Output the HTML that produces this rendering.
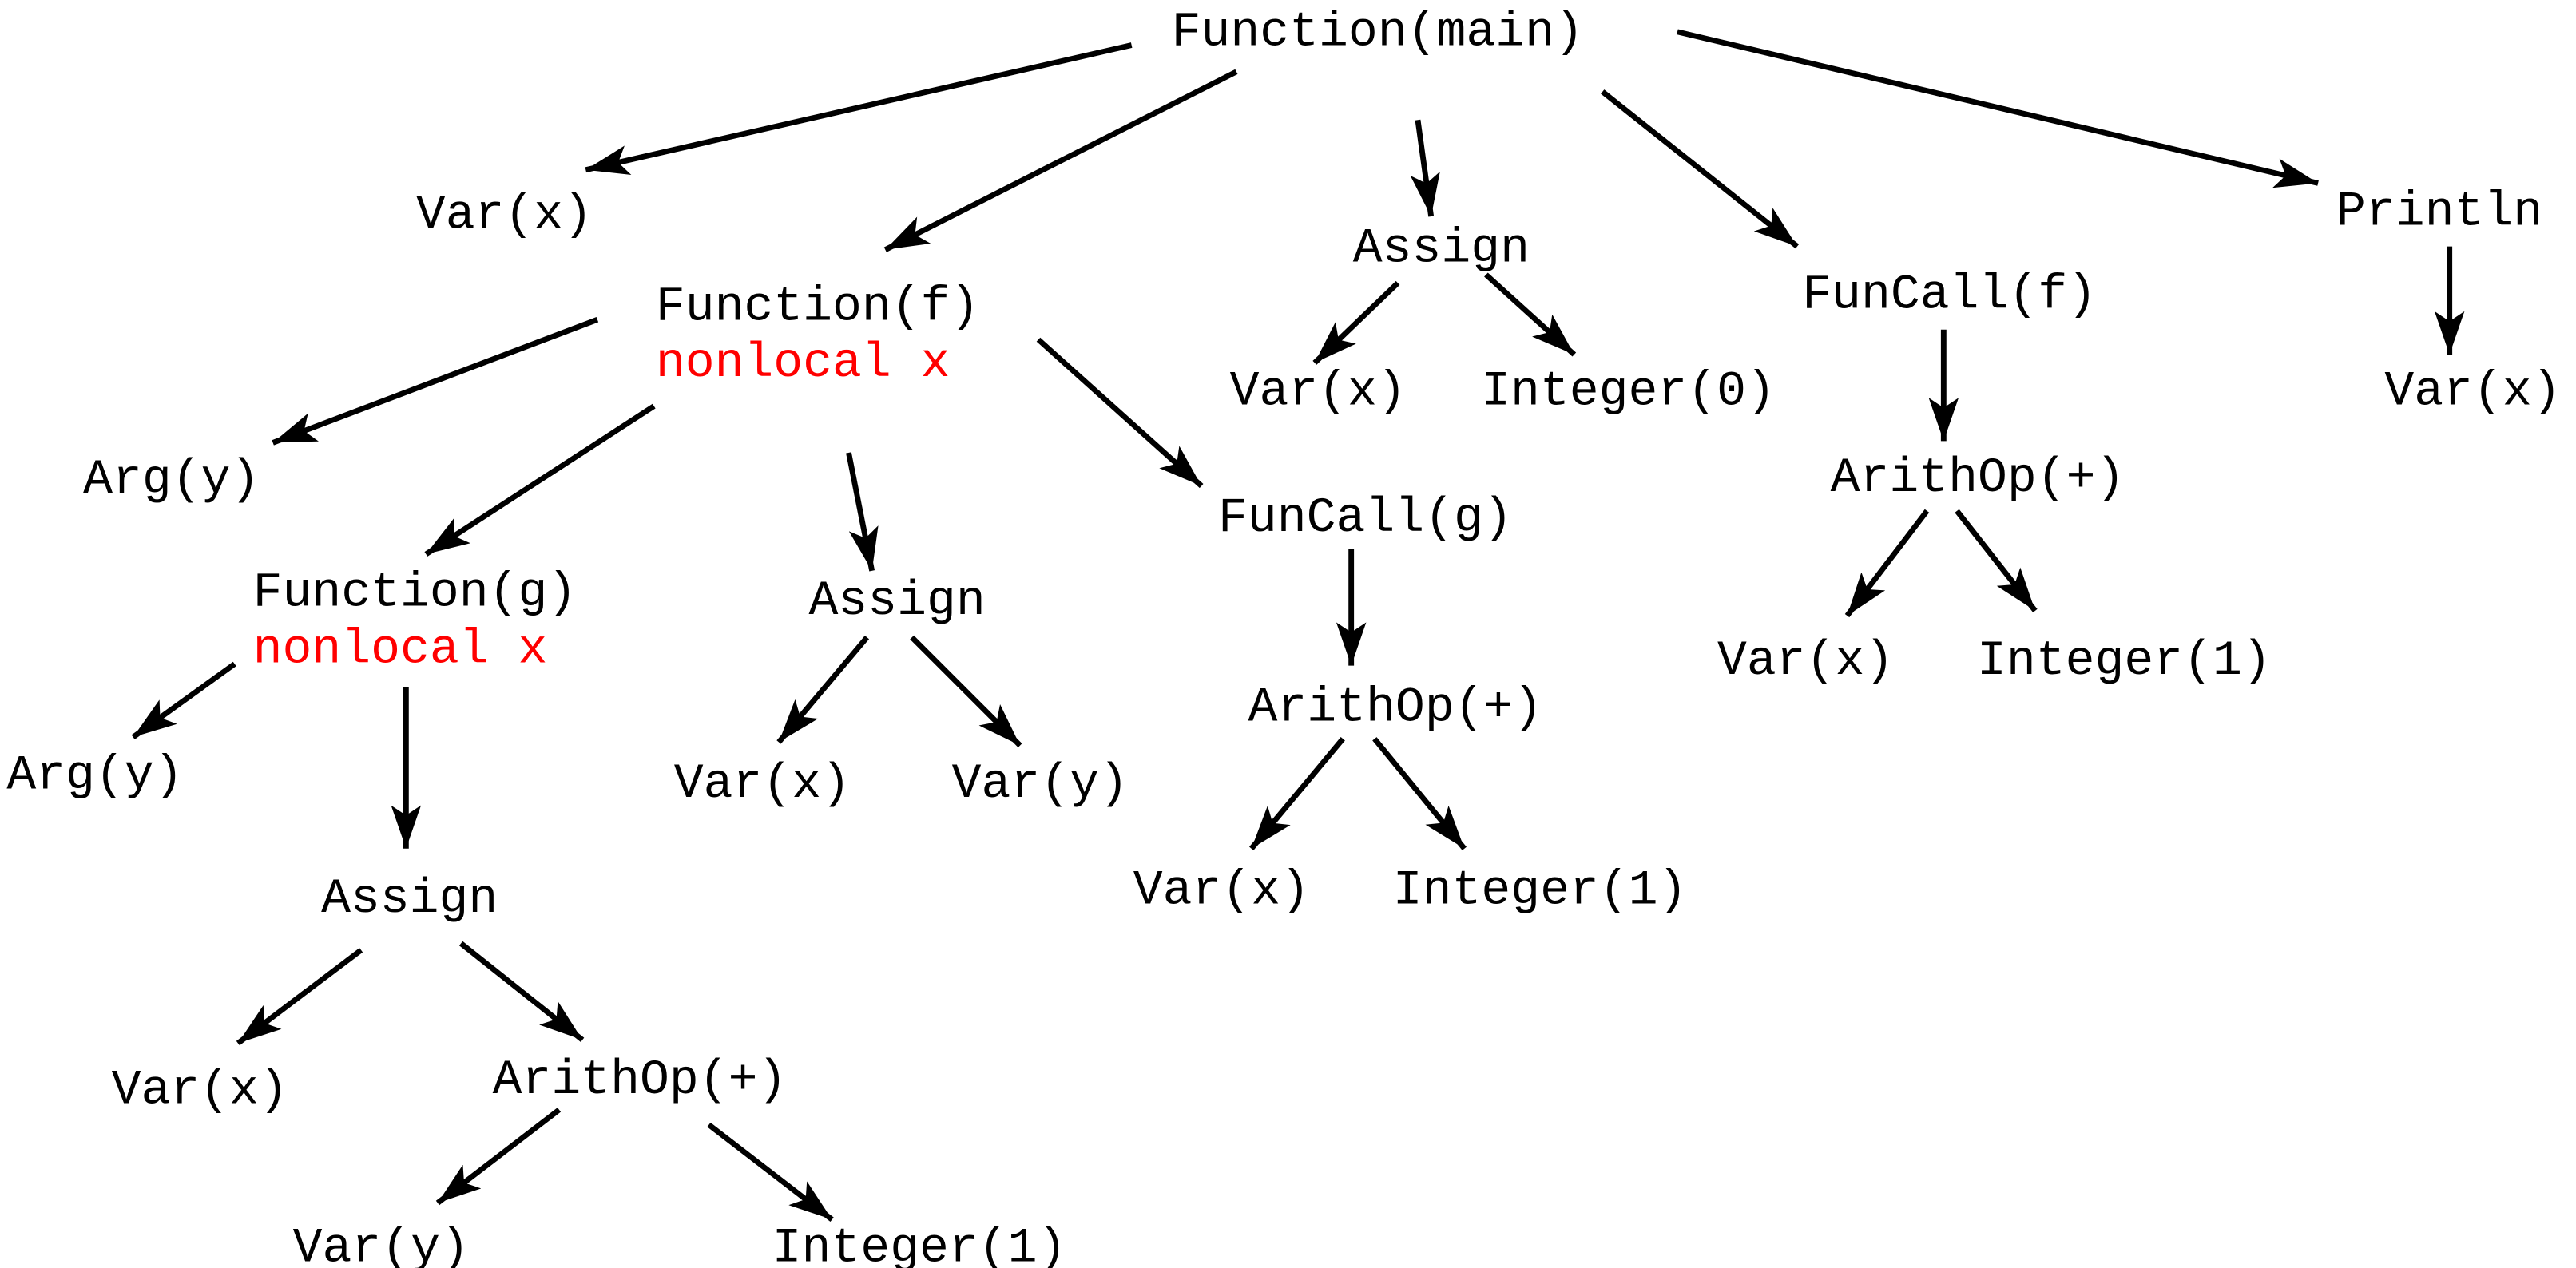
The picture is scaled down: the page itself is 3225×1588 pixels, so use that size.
<!DOCTYPE html>
<html><head><meta charset="utf-8"><style>html,body{margin:0;padding:0;background:#fff}svg{display:block}</style></head><body>
<svg width="3225" height="1588" viewBox="0 0 1548 762" xmlns="http://www.w3.org/2000/svg">
<defs><marker id="a" markerUnits="userSpaceOnUse" markerWidth="28" markerHeight="18" refX="26" refY="9" orient="auto"><path d="M0,0 L26,9 L0,18 L6,9 z" fill="#000"/></marker></defs>
<g stroke="#000" stroke-width="3.3" fill="none" marker-end="url(#a)">
<line x1="680" y1="27" x2="352" y2="102"/>
<line x1="743" y1="43" x2="532" y2="150"/>
<line x1="852" y1="72" x2="860" y2="130"/>
<line x1="963" y1="55" x2="1080" y2="148"/>
<line x1="1008" y1="19" x2="1393" y2="110"/>
<line x1="1472" y1="148" x2="1472" y2="213"/>
<line x1="840" y1="170" x2="790" y2="218"/>
<line x1="893" y1="165" x2="946" y2="213"/>
<line x1="1168" y1="198" x2="1168" y2="265"/>
<line x1="1158" y1="307" x2="1110" y2="370"/>
<line x1="1176" y1="307" x2="1223" y2="367"/>
<line x1="359" y1="192" x2="164" y2="266"/>
<line x1="393" y1="244" x2="256" y2="333"/>
<line x1="510" y1="272" x2="524" y2="343"/>
<line x1="624" y1="204" x2="722" y2="292"/>
<line x1="812" y1="330" x2="812" y2="400"/>
<line x1="807" y1="444" x2="752" y2="510"/>
<line x1="826" y1="444" x2="880" y2="510"/>
<line x1="141" y1="399" x2="80" y2="443"/>
<line x1="244" y1="413" x2="244" y2="510"/>
<line x1="521" y1="383" x2="468" y2="446"/>
<line x1="548" y1="383" x2="613" y2="448"/>
<line x1="217" y1="571" x2="143" y2="627"/>
<line x1="277" y1="567" x2="350" y2="625"/>
<line x1="336" y1="667" x2="263" y2="723"/>
<line x1="426" y1="676" x2="500" y2="733"/>
</g>
<g font-family="Liberation Mono, monospace" font-size="29.5" fill="#000">
<text x="704" y="27">Function(main)</text>
<text x="250" y="137">Var(x)</text>
<text x="394" y="192">Function(f)</text>
<text x="394" y="226" fill="#ff0000">nonlocal x</text>
<text x="813" y="157">Assign</text>
<text x="1083" y="185">FunCall(f)</text>
<text x="1404" y="135">Println</text>
<text x="1433" y="243">Var(x)</text>
<text x="739" y="243">Var(x)</text>
<text x="890" y="243">Integer(0)</text>
<text x="1100" y="295">ArithOp(+)</text>
<text x="1032" y="405">Var(x)</text>
<text x="1188" y="405">Integer(1)</text>
<text x="50" y="296">Arg(y)</text>
<text x="152" y="364">Function(g)</text>
<text x="152" y="398" fill="#ff0000">nonlocal x</text>
<text x="486" y="369">Assign</text>
<text x="732" y="319">FunCall(g)</text>
<text x="750" y="433">ArithOp(+)</text>
<text x="405" y="479">Var(x)</text>
<text x="572" y="479">Var(y)</text>
<text x="681" y="543">Var(x)</text>
<text x="837" y="543">Integer(1)</text>
<text x="4" y="474">Arg(y)</text>
<text x="193" y="548">Assign</text>
<text x="67" y="663">Var(x)</text>
<text x="296" y="657">ArithOp(+)</text>
<text x="176" y="758">Var(y)</text>
<text x="464" y="758">Integer(1)</text>
</g>
</svg>
</body></html>
